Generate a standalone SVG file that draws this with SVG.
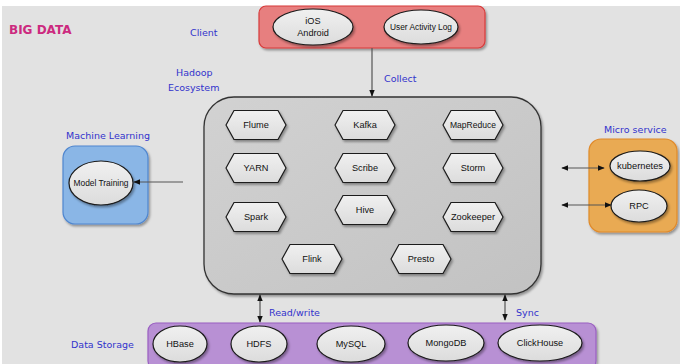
<svg xmlns="http://www.w3.org/2000/svg" width="680" height="364" viewBox="0 0 680 364">
<defs>
<style>
.lbl{font-family:"Liberation Sans",Arial,sans-serif;font-size:9.2px;fill:#111;text-anchor:middle;dominant-baseline:central}
.cap{font-family:"DejaVu Sans","Liberation Sans",sans-serif;font-size:9.5px;fill:#3232cc}
.node{fill:url(#ng);stroke:#1a1a1a;stroke-width:1.2;stroke-linejoin:round;filter:url(#sh)}
.edge{stroke:#555;stroke-width:1.2;fill:none}
</style>
<linearGradient id="ng" x1="0" y1="0" x2="0" y2="1"><stop offset="0" stop-color="#f0f0f0"/><stop offset="1" stop-color="#dcdcdc"/></linearGradient>
<linearGradient id="bg" x1="0" y1="0" x2="1" y2="1"><stop offset="0" stop-color="#d2d2d2"/><stop offset="1" stop-color="#c2c2c2"/></linearGradient>
<filter id="sh" x="-20%" y="-20%" width="150%" height="160%"><feDropShadow dx="1.5" dy="2" stdDeviation="1.2" flood-color="#000" flood-opacity="0.35"/></filter>
<marker id="ah" viewBox="0 0 10 10" refX="9" refY="5" markerWidth="6" markerHeight="6" orient="auto-start-reverse"><path d="M0,1 L10,5 L0,9 Z" fill="#111"/></marker>
<path id="hex" d="M-30,0 L-22,-14.5 L22,-14.5 L30,0 L22,14.5 L-22,14.5 Z"/>
</defs>
<rect x="0" y="0" width="680" height="364" fill="#ffffff"/>
<rect x="2" y="6" width="678" height="358" fill="#e2e2e2"/>
<text x="9" y="34" font-family="DejaVu Sans,sans-serif" font-size="12" font-weight="bold" fill="#cc2a7f">BIG DATA</text>
<text class="cap" x="190" y="36">Client</text>
<text class="cap" x="176" y="76">Hadoop</text>
<text class="cap" x="168" y="91">Ecosystem</text>
<text class="cap" x="384" y="82">Collect</text>
<text class="cap" x="66" y="139">Machine Learning</text>
<text class="cap" x="604" y="133">Micro service</text>
<text class="cap" x="71" y="348">Data Storage</text>
<text class="cap" x="269" y="316">Read/write</text>
<text class="cap" x="516" y="316">Sync</text>
<g id="client">
<rect x="259" y="6" width="226" height="42" rx="7" fill="#e77f7f" stroke="#d83a3a" stroke-width="1.2" filter="url(#sh)"/>
<ellipse class="node" cx="313" cy="27" rx="40" ry="18"/>
<text class="lbl" x="313" y="21">iOS</text>
<text class="lbl" x="313" y="33">Android</text>
<ellipse class="node" cx="421" cy="27" rx="37" ry="17"/>
<text class="lbl" x="421" y="27" textLength="62" lengthAdjust="spacingAndGlyphs">User Activity Log</text>
</g>
<g id="hadoop">
<rect x="204" y="97" width="337" height="197" rx="30" fill="url(#bg)" stroke="#333" stroke-width="1.3" filter="url(#sh)"/>
<g id="flume"><use href="#hex" x="256" y="125" class="node"/><text class="lbl" x="256" y="125">Flume</text></g>
<g id="kafka"><use href="#hex" x="365" y="125" class="node"/><text class="lbl" x="365" y="125">Kafka</text></g>
<g id="mapreduce"><use href="#hex" x="473" y="125" class="node"/><text class="lbl" x="473" y="125" textLength="46" lengthAdjust="spacingAndGlyphs">MapReduce</text></g>
<g id="yarn"><use href="#hex" x="256" y="168" class="node"/><text class="lbl" x="256" y="168">YARN</text></g>
<g id="scribe"><use href="#hex" x="365" y="168" class="node"/><text class="lbl" x="365" y="168">Scribe</text></g>
<g id="storm"><use href="#hex" x="473" y="168" class="node"/><text class="lbl" x="473" y="168">Storm</text></g>
<g id="spark"><use href="#hex" x="256" y="217" class="node"/><text class="lbl" x="256" y="217">Spark</text></g>
<g id="hive"><use href="#hex" x="365" y="210" class="node"/><text class="lbl" x="365" y="210">Hive</text></g>
<g id="zookeeper"><use href="#hex" x="473" y="217" class="node"/><text class="lbl" x="473" y="217" textLength="44" lengthAdjust="spacingAndGlyphs">Zookeeper</text></g>
<g id="flink"><use href="#hex" x="312" y="259" class="node"/><text class="lbl" x="312" y="259">Flink</text></g>
<g id="presto"><use href="#hex" x="421" y="259" class="node"/><text class="lbl" x="421" y="259">Presto</text></g>
</g>
<g id="ml">
<rect x="63" y="146" width="85" height="78" rx="12" fill="#8ab6e6" stroke="#4f86cf" stroke-width="1.2" filter="url(#sh)"/>
<ellipse class="node" cx="101" cy="183" rx="32" ry="22"/>
<text class="lbl" x="101" y="183" textLength="55" lengthAdjust="spacingAndGlyphs">Model Training</text>
</g>
<g id="micro">
<rect x="589" y="139" width="88" height="93" rx="12" fill="#e9aa52" stroke="#e08a2a" stroke-width="1.2" filter="url(#sh)"/>
<ellipse class="node" cx="640" cy="166" rx="30" ry="15"/>
<text class="lbl" x="640" y="166" textLength="46" lengthAdjust="spacingAndGlyphs">kubernetes</text>
<ellipse class="node" cx="639" cy="206" rx="28" ry="16"/>
<text class="lbl" x="639" y="206">RPC</text>
</g>
<g id="storage">
<rect x="148" y="323" width="448" height="46" rx="8" fill="#b890d4" stroke="#9a5fc2" stroke-width="1.2" filter="url(#sh)"/>
<ellipse class="node" cx="180" cy="344" rx="27" ry="18"/>
<text class="lbl" x="180" y="344">HBase</text>
<ellipse class="node" cx="259" cy="344" rx="28" ry="18"/>
<text class="lbl" x="259" y="344">HDFS</text>
<ellipse class="node" cx="351" cy="344" rx="34" ry="18"/>
<text class="lbl" x="351" y="344">MySQL</text>
<ellipse class="node" cx="446" cy="343" rx="38" ry="18"/>
<text class="lbl" x="446" y="343">MongoDB</text>
<ellipse class="node" cx="540" cy="343" rx="42" ry="18"/>
<text class="lbl" x="540" y="343">ClickHouse</text>
</g>
<g id="connectors">
<line class="edge" x1="372" y1="48" x2="372" y2="96" marker-end="url(#ah)"/>
<line class="edge" x1="183" y1="182" x2="134" y2="182" marker-end="url(#ah)"/>
<line class="edge" x1="562" y1="168" x2="604" y2="168" marker-start="url(#ah)" marker-end="url(#ah)"/>
<line class="edge" x1="562" y1="205" x2="611" y2="205" marker-start="url(#ah)" marker-end="url(#ah)"/>
<line class="edge" x1="260" y1="295" x2="260" y2="322" marker-start="url(#ah)" marker-end="url(#ah)"/>
<line class="edge" x1="505" y1="295" x2="505" y2="320" marker-start="url(#ah)" marker-end="url(#ah)"/>
</g>
</svg>
